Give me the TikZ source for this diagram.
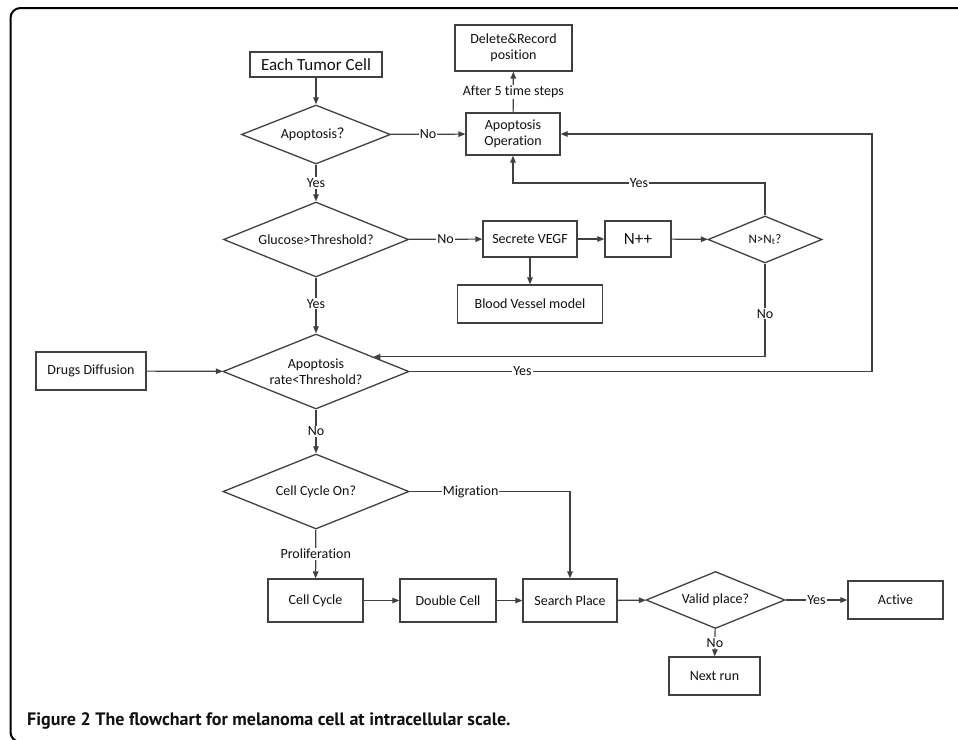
\documentclass[tikz,border=0pt]{standalone}
\usepackage{fontspec}
\setmainfont{Carlito}[Ligatures={NoCommon}]
\newfontfamily\capfont{PT Sans}
\newfontfamily\cjkfont{Noto Sans CJK SC}
\usetikzlibrary{shapes.geometric,arrows.meta,calc}
\definecolor{ln}{HTML}{404040}
\definecolor{tx}{HTML}{101010}
\begin{document}
\begin{tikzpicture}[x=1pt,y=-1pt,
  box/.style={draw=ln, line width=1.3pt, rectangle, inner sep=0pt, text=tx,
    font=\fontsize{14}{16}\selectfont, align=center},
  dia/.style={draw=ln, line width=1.3pt, diamond, aspect=2.5, inner sep=0pt, text=tx,
    font=\fontsize{14}{16}\selectfont, align=center},
  conn/.style={draw=ln, line width=1.2pt, -{Triangle[length=7pt,width=5.5pt]}},
  lbl/.style={fill=white, inner sep=1pt, text=tx, font=\fontsize{14}{16}\selectfont}]
\useasboundingbox (0,0) rectangle (958,739);
% frame
\draw[line width=2pt, rounded corners=10pt] (970,8) -- (10.5,8) -- (10.5,742) -- (970,742);

% nodes
\node[box, minimum width=132pt, minimum height=25pt, font=\fontsize{17}{19}\selectfont] (etc) at (316,64.5) {Each Tumor Cell};
\node[dia, minimum width=149pt, minimum height=59pt] (apo) at (316,134.5) {Apoptosis{\cjkfont ？}};
\node[box, minimum width=117pt, minimum height=46pt] (del) at (513.5,48) {Delete\&Record\\position};
\node[box, minimum width=94pt, minimum height=42pt] (ao) at (513,134) {Apoptosis\\Operation};
\node[dia, minimum width=185pt, minimum height=75pt] (glu) at (316,239.5) {Glucose>Threshold?};
\node[box, minimum width=94pt, minimum height=36pt] (sv) at (530,239) {Secrete VEGF};
\node[box, minimum width=66pt, minimum height=36pt, font=\fontsize{17}{19}\selectfont] (npp) at (638,239) {N++};
\node[dia, minimum width=114pt, minimum height=47pt, font=\fontsize{13}{15}\selectfont] (nt) at (765,239.5) {N>N\textsubscript{t}?};
\node[box, minimum width=145pt, minimum height=38pt] (bv) at (530,304) {Blood Vessel model};
\node[dia, minimum width=186pt, minimum height=75pt] (ar) at (316,371.5) {Apoptosis\\rate<Threshold?};
\node[box, minimum width=110pt, minimum height=38pt] (dd) at (91,371) {Drugs Diffusion};
\node[dia, minimum width=186pt, minimum height=75pt] (cco) at (316,491.5) {Cell Cycle On?};
\node[box, minimum width=95pt, minimum height=43pt] (cc) at (315.5,600.5) {Cell Cycle};
\node[box, minimum width=96pt, minimum height=43pt] (dc) at (448,600.5) {Double Cell};
\node[box, minimum width=94pt, minimum height=43pt] (sp) at (570,600.5) {Search Place};
\node[dia, minimum width=139pt, minimum height=57pt] (vp) at (715.5,600) {Valid place?};
\node[box, minimum width=95pt, minimum height=38pt] (act) at (895.5,600) {Active};
\node[box, minimum width=91pt, minimum height=38pt] (nr) at (714.5,676) {Next run};

\coordinate (nyes) at (765,183);
\coordinate (rloop) at (872,371.5);
\coordinate (arin) at ($(ar.north)!0.613!(ar.east)$);

% connectors
\draw[conn] (etc) -- (apo);
\draw[conn] (apo) -- node[lbl] {No} (ao);
\draw[conn] (apo) -- node[lbl] {Yes} (glu);
\draw[conn] (ao) -- node[lbl] {After 5 time steps} (del);
\draw[conn] (glu) -- node[lbl] {No} (sv);
\draw[conn] (sv) -- (npp);
\draw[conn] (npp) -- (nt);
\draw[conn] (sv.south) -- (bv.north -| sv.south);
\draw[conn] (nt.north) -- (nyes) -| node[lbl, pos=0.25] {Yes} (ao.south);
\draw[conn] (nt.south) |- node[lbl, pos=0.27] {No} (arin);
\draw[conn] (ar.east) -- node[lbl, pos=0.244] {Yes} (rloop) |- (ao.east);
\draw[conn] (dd) -- (ar);
\draw[conn] (glu) -- node[lbl, pos=0.47] {Yes} (ar);
\draw[conn] (ar) -- node[lbl] {No} (cco);
\draw[conn] (cco.east) -| node[lbl, pos=0.19] {Migration} (sp.north);
\draw[conn] (cco) -- node[lbl] {Proliferation} (cc);
\draw[conn] (cc) -- (dc);
\draw[conn] (dc) -- (sp);
\draw[conn] (sp) -- (vp);
\draw[conn] (vp) -- node[lbl] {Yes} (act);
\draw[conn] (vp) -- node[lbl] {No} (nr);

% caption
\node[anchor=base west, inner sep=0pt, font=\capfont\bfseries\fontsize{18}{20}\selectfont, text=tx] (cap) at (27,725)
  {Figure 2 The flowchart for melanoma cell at intracellular scale.};
\end{tikzpicture}
\end{document}
